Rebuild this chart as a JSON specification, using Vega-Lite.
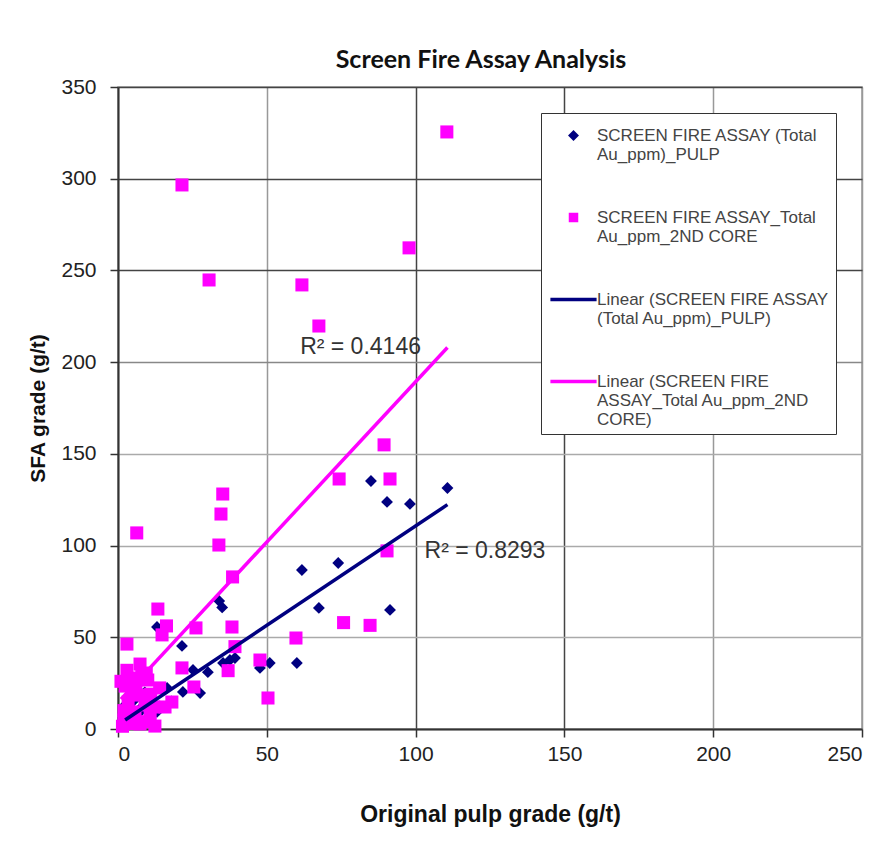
{
  "$schema": "https://vega.github.io/schema/vega-lite/v6.json",
  "width": 744,
  "height": 642,
  "autosize": {"type": "none"},
  "padding": {"left": 118, "top": 87, "right": 26, "bottom": 131},
  "background": "white",
  "title": {
    "text": "Screen Fire Assay Analysis",
    "font": "Lato",
    "fontWeight": "bold",
    "fontSize": 25,
    "color": "#111111",
    "anchor": "middle",
    "offset": 3,
    "dx": -9
  },
  "config": {
    "view": {"stroke": "#999999", "strokeWidth": 1.5},
    "axis": {
      "labelFont": "Liberation Sans",
      "labelFontSize": 21,
      "labelColor": "#222222",
      "titleFont": "Liberation Sans",
      "titleFontSize": 21,
      "titleFontWeight": "bold",
      "titleColor": "#111111",
      "domainColor": "#333333",
      "domainWidth": 2,
      "tickColor": "#333333",
      "tickSize": 8,
      "tickWidth": 1.5,
      "gridWidth": 1.5
    }
  },
  "datasets": {
    "samples": [
      {"series": "SCREEN FIRE ASSAY (Total Au_ppm)_PULP", "pulp": 110.7, "sfa": 131.4},
      {"series": "SCREEN FIRE ASSAY (Total Au_ppm)_PULP", "pulp": 85.0, "sfa": 135.2},
      {"series": "SCREEN FIRE ASSAY (Total Au_ppm)_PULP", "pulp": 90.4, "sfa": 123.8},
      {"series": "SCREEN FIRE ASSAY (Total Au_ppm)_PULP", "pulp": 98.1, "sfa": 122.7},
      {"series": "SCREEN FIRE ASSAY (Total Au_ppm)_PULP", "pulp": 61.8, "sfa": 86.7},
      {"series": "SCREEN FIRE ASSAY (Total Au_ppm)_PULP", "pulp": 74.0, "sfa": 90.5},
      {"series": "SCREEN FIRE ASSAY (Total Au_ppm)_PULP", "pulp": 67.5, "sfa": 66.0},
      {"series": "SCREEN FIRE ASSAY (Total Au_ppm)_PULP", "pulp": 91.4, "sfa": 64.9},
      {"series": "SCREEN FIRE ASSAY (Total Au_ppm)_PULP", "pulp": 60.1, "sfa": 36.0},
      {"series": "SCREEN FIRE ASSAY (Total Au_ppm)_PULP", "pulp": 51.0, "sfa": 36.0},
      {"series": "SCREEN FIRE ASSAY (Total Au_ppm)_PULP", "pulp": 47.7, "sfa": 33.3},
      {"series": "SCREEN FIRE ASSAY (Total Au_ppm)_PULP", "pulp": 39.3, "sfa": 38.7},
      {"series": "SCREEN FIRE ASSAY (Total Au_ppm)_PULP", "pulp": 37.6, "sfa": 37.6},
      {"series": "SCREEN FIRE ASSAY (Total Au_ppm)_PULP", "pulp": 35.3, "sfa": 36.0},
      {"series": "SCREEN FIRE ASSAY (Total Au_ppm)_PULP", "pulp": 34.0, "sfa": 69.8},
      {"series": "SCREEN FIRE ASSAY (Total Au_ppm)_PULP", "pulp": 35.0, "sfa": 66.3},
      {"series": "SCREEN FIRE ASSAY (Total Au_ppm)_PULP", "pulp": 13.1, "sfa": 55.6},
      {"series": "SCREEN FIRE ASSAY (Total Au_ppm)_PULP", "pulp": 21.5, "sfa": 45.3},
      {"series": "SCREEN FIRE ASSAY (Total Au_ppm)_PULP", "pulp": 30.2, "sfa": 31.0},
      {"series": "SCREEN FIRE ASSAY (Total Au_ppm)_PULP", "pulp": 25.2, "sfa": 32.2},
      {"series": "SCREEN FIRE ASSAY (Total Au_ppm)_PULP", "pulp": 27.6, "sfa": 19.6},
      {"series": "SCREEN FIRE ASSAY (Total Au_ppm)_PULP", "pulp": 21.8, "sfa": 20.2},
      {"series": "SCREEN FIRE ASSAY (Total Au_ppm)_PULP", "pulp": 16.5, "sfa": 22.4},
      {"series": "SCREEN FIRE ASSAY (Total Au_ppm)_PULP", "pulp": 2.4, "sfa": 13.1},
      {"series": "SCREEN FIRE ASSAY (Total Au_ppm)_PULP", "pulp": 13.1, "sfa": 9.3},
      {"series": "SCREEN FIRE ASSAY (Total Au_ppm)_PULP", "pulp": 7.4, "sfa": 9.3},
      {"series": "SCREEN FIRE ASSAY (Total Au_ppm)_PULP", "pulp": 4.0, "sfa": 6.0},
      {"series": "SCREEN FIRE ASSAY (Total Au_ppm)_PULP", "pulp": 10.0, "sfa": 16.0},
      {"series": "SCREEN FIRE ASSAY (Total Au_ppm)_PULP", "pulp": 18.0, "sfa": 15.0},
      {"series": "SCREEN FIRE ASSAY (Total Au_ppm)_PULP", "pulp": 3.0, "sfa": 10.0},
      {"series": "SCREEN FIRE ASSAY (Total Au_ppm)_PULP", "pulp": 6.0, "sfa": 4.0},
      {"series": "SCREEN FIRE ASSAY (Total Au_ppm)_PULP", "pulp": 8.0, "sfa": 12.0},
      {"series": "SCREEN FIRE ASSAY (Total Au_ppm)_PULP", "pulp": 11.0, "sfa": 6.0},
      {"series": "SCREEN FIRE ASSAY (Total Au_ppm)_PULP", "pulp": 5.0, "sfa": 15.0},
      {"series": "SCREEN FIRE ASSAY (Total Au_ppm)_PULP", "pulp": 9.0, "sfa": 20.0},
      {"series": "SCREEN FIRE ASSAY_Total Au_ppm_2ND CORE", "pulp": 110.5, "sfa": 325.5},
      {"series": "SCREEN FIRE ASSAY_Total Au_ppm_2ND CORE", "pulp": 21.5, "sfa": 296.6},
      {"series": "SCREEN FIRE ASSAY_Total Au_ppm_2ND CORE", "pulp": 97.8, "sfa": 262.3},
      {"series": "SCREEN FIRE ASSAY_Total Au_ppm_2ND CORE", "pulp": 30.6, "sfa": 244.8},
      {"series": "SCREEN FIRE ASSAY_Total Au_ppm_2ND CORE", "pulp": 61.8, "sfa": 242.1},
      {"series": "SCREEN FIRE ASSAY_Total Au_ppm_2ND CORE", "pulp": 67.5, "sfa": 219.7},
      {"series": "SCREEN FIRE ASSAY_Total Au_ppm_2ND CORE", "pulp": 89.4, "sfa": 154.9},
      {"series": "SCREEN FIRE ASSAY_Total Au_ppm_2ND CORE", "pulp": 74.3, "sfa": 136.3},
      {"series": "SCREEN FIRE ASSAY_Total Au_ppm_2ND CORE", "pulp": 91.4, "sfa": 136.3},
      {"series": "SCREEN FIRE ASSAY_Total Au_ppm_2ND CORE", "pulp": 35.2, "sfa": 128.1},
      {"series": "SCREEN FIRE ASSAY_Total Au_ppm_2ND CORE", "pulp": 34.6, "sfa": 117.2},
      {"series": "SCREEN FIRE ASSAY_Total Au_ppm_2ND CORE", "pulp": 33.9, "sfa": 100.3},
      {"series": "SCREEN FIRE ASSAY_Total Au_ppm_2ND CORE", "pulp": 6.3, "sfa": 106.9},
      {"series": "SCREEN FIRE ASSAY_Total Au_ppm_2ND CORE", "pulp": 38.5, "sfa": 82.9},
      {"series": "SCREEN FIRE ASSAY_Total Au_ppm_2ND CORE", "pulp": 90.4, "sfa": 97.1},
      {"series": "SCREEN FIRE ASSAY_Total Au_ppm_2ND CORE", "pulp": 13.4, "sfa": 65.4},
      {"series": "SCREEN FIRE ASSAY_Total Au_ppm_2ND CORE", "pulp": 16.3, "sfa": 56.2},
      {"series": "SCREEN FIRE ASSAY_Total Au_ppm_2ND CORE", "pulp": 14.8, "sfa": 51.3},
      {"series": "SCREEN FIRE ASSAY_Total Au_ppm_2ND CORE", "pulp": 3.0, "sfa": 46.3},
      {"series": "SCREEN FIRE ASSAY_Total Au_ppm_2ND CORE", "pulp": 26.2, "sfa": 55.1},
      {"series": "SCREEN FIRE ASSAY_Total Au_ppm_2ND CORE", "pulp": 38.3, "sfa": 55.6},
      {"series": "SCREEN FIRE ASSAY_Total Au_ppm_2ND CORE", "pulp": 39.3, "sfa": 44.9},
      {"series": "SCREEN FIRE ASSAY_Total Au_ppm_2ND CORE", "pulp": 37.0, "sfa": 31.8},
      {"series": "SCREEN FIRE ASSAY_Total Au_ppm_2ND CORE", "pulp": 47.7, "sfa": 37.6},
      {"series": "SCREEN FIRE ASSAY_Total Au_ppm_2ND CORE", "pulp": 59.8, "sfa": 49.6},
      {"series": "SCREEN FIRE ASSAY_Total Au_ppm_2ND CORE", "pulp": 50.4, "sfa": 16.9},
      {"series": "SCREEN FIRE ASSAY_Total Au_ppm_2ND CORE", "pulp": 75.8, "sfa": 58.0},
      {"series": "SCREEN FIRE ASSAY_Total Au_ppm_2ND CORE", "pulp": 84.7, "sfa": 56.5},
      {"series": "SCREEN FIRE ASSAY_Total Au_ppm_2ND CORE", "pulp": 7.4, "sfa": 35.4},
      {"series": "SCREEN FIRE ASSAY_Total Au_ppm_2ND CORE", "pulp": 21.5, "sfa": 33.3},
      {"series": "SCREEN FIRE ASSAY_Total Au_ppm_2ND CORE", "pulp": 25.5, "sfa": 22.9},
      {"series": "SCREEN FIRE ASSAY_Total Au_ppm_2ND CORE", "pulp": 18.1, "sfa": 14.7},
      {"series": "SCREEN FIRE ASSAY_Total Au_ppm_2ND CORE", "pulp": 15.8, "sfa": 12.0},
      {"series": "SCREEN FIRE ASSAY_Total Au_ppm_2ND CORE", "pulp": 1.0, "sfa": 26.0},
      {"series": "SCREEN FIRE ASSAY_Total Au_ppm_2ND CORE", "pulp": 2.4, "sfa": 23.4},
      {"series": "SCREEN FIRE ASSAY_Total Au_ppm_2ND CORE", "pulp": 4.7, "sfa": 21.3},
      {"series": "SCREEN FIRE ASSAY_Total Au_ppm_2ND CORE", "pulp": 7.4, "sfa": 18.5},
      {"series": "SCREEN FIRE ASSAY_Total Au_ppm_2ND CORE", "pulp": 3.4, "sfa": 14.7},
      {"series": "SCREEN FIRE ASSAY_Total Au_ppm_2ND CORE", "pulp": 9.1, "sfa": 13.1},
      {"series": "SCREEN FIRE ASSAY_Total Au_ppm_2ND CORE", "pulp": 5.7, "sfa": 9.3},
      {"series": "SCREEN FIRE ASSAY_Total Au_ppm_2ND CORE", "pulp": 10.8, "sfa": 7.6},
      {"series": "SCREEN FIRE ASSAY_Total Au_ppm_2ND CORE", "pulp": 2.0, "sfa": 4.9},
      {"series": "SCREEN FIRE ASSAY_Total Au_ppm_2ND CORE", "pulp": 7.4, "sfa": 2.7},
      {"series": "SCREEN FIRE ASSAY_Total Au_ppm_2ND CORE", "pulp": 12.4, "sfa": 1.6},
      {"series": "SCREEN FIRE ASSAY_Total Au_ppm_2ND CORE", "pulp": 4.0, "sfa": 27.8},
      {"series": "SCREEN FIRE ASSAY_Total Au_ppm_2ND CORE", "pulp": 10.0, "sfa": 26.7},
      {"series": "SCREEN FIRE ASSAY_Total Au_ppm_2ND CORE", "pulp": 14.0, "sfa": 22.4},
      {"series": "SCREEN FIRE ASSAY_Total Au_ppm_2ND CORE", "pulp": 8.0, "sfa": 30.0},
      {"series": "SCREEN FIRE ASSAY_Total Au_ppm_2ND CORE", "pulp": 1.5, "sfa": 1.5},
      {"series": "SCREEN FIRE ASSAY_Total Au_ppm_2ND CORE", "pulp": 11.0, "sfa": 19.0},
      {"series": "SCREEN FIRE ASSAY_Total Au_ppm_2ND CORE", "pulp": 2.0, "sfa": 10.0},
      {"series": "SCREEN FIRE ASSAY_Total Au_ppm_2ND CORE", "pulp": 5.0, "sfa": 3.0},
      {"series": "SCREEN FIRE ASSAY_Total Au_ppm_2ND CORE", "pulp": 9.0, "sfa": 4.0},
      {"series": "SCREEN FIRE ASSAY_Total Au_ppm_2ND CORE", "pulp": 6.0, "sfa": 24.0},
      {"series": "SCREEN FIRE ASSAY_Total Au_ppm_2ND CORE", "pulp": 12.0, "sfa": 12.0},
      {"series": "SCREEN FIRE ASSAY_Total Au_ppm_2ND CORE", "pulp": 3.0, "sfa": 32.0},
      {"series": "SCREEN FIRE ASSAY_Total Au_ppm_2ND CORE", "pulp": 9.5, "sfa": 30.5}
    ],
    "trend": [
      {"series": "Linear (SCREEN FIRE ASSAY (Total Au_ppm)_PULP)", "pulp": 2.4, "sfa": 4.9},
      {"series": "Linear (SCREEN FIRE ASSAY (Total Au_ppm)_PULP)", "pulp": 110.7, "sfa": 122.3},
      {"series": "Linear (SCREEN FIRE ASSAY_Total Au_ppm_2ND CORE)", "pulp": 1.0, "sfa": 16.3},
      {"series": "Linear (SCREEN FIRE ASSAY_Total Au_ppm_2ND CORE)", "pulp": 110.7, "sfa": 208.0}
    ],
    "notes": [
      {"pulp": 61.2, "sfa": 208.4, "label": "R² = 0.4146"},
      {"pulp": 103.0, "sfa": 96.8, "label": "R² = 0.8293"}
    ]
  },
  "encoding": {
    "x": {
      "field": "pulp",
      "type": "quantitative",
      "scale": {"domain": [0, 250], "nice": false},
      "axis": {
        "values": [0, 50, 100, 150, 200, 250],
        "title": "Original  pulp grade (g/t)",
        "labelPadding": 6,
        "titlePadding": 39,
        "titleFontSize": 23,
        "gridColor": {"condition": {"test": "datum.value === 100 || datum.value === 150", "value": "#444444"}, "value": "#999999"}
      }
    },
    "y": {
      "field": "sfa",
      "type": "quantitative",
      "scale": {"domain": [0, 350], "nice": false},
      "axis": {
        "values": [0, 50, 100, 150, 200, 250, 300, 350],
        "title": "SFA grade (g/t)",
        "labelPadding": 14,
        "titlePadding": 12,
        "gridColor": {"condition": [{"test": "datum.value >= 250", "value": "#444444"}, {"test": "datum.value === 200", "value": "#888888"}], "value": "#aaaaaa"}
      }
    }
  },
  "layer": [
    {
      "data": {"name": "samples"},
      "transform": [{"filter": "datum.series === 'SCREEN FIRE ASSAY (Total Au_ppm)_PULP'"}],
      "mark": {"type": "point", "shape": "diamond", "filled": true, "opacity": 1, "size": 140},
      "encoding": {
        "color": {
          "field": "series",
          "type": "nominal",
          "scale": {
            "domain": [
              "SCREEN FIRE ASSAY (Total Au_ppm)_PULP",
              "SCREEN FIRE ASSAY_Total Au_ppm_2ND CORE",
              "Linear (SCREEN FIRE ASSAY (Total Au_ppm)_PULP)",
              "Linear (SCREEN FIRE ASSAY_Total Au_ppm_2ND CORE)"
            ],
            "range": ["#000080", "#ff00ff", "#000080", "#ff00ff"]
          }
        }
      }
    },
    {
      "data": {"name": "samples"},
      "transform": [{"filter": "datum.series === 'SCREEN FIRE ASSAY_Total Au_ppm_2ND CORE'"}],
      "mark": {"type": "point", "shape": "square", "filled": true, "opacity": 1, "size": 170},
      "encoding": {
        "color": {"field": "series", "type": "nominal"}
      }
    },
    {
      "data": {"name": "trend"},
      "mark": {"type": "line", "strokeWidth": 3.5},
      "encoding": {
        "color": {"field": "series", "type": "nominal"}
      }
    },
    {
      "data": {"name": "trend"},
      "mark": {"type": "point", "filled": true, "opacity": 0},
      "encoding": {
        "color": {
          "field": "series",
          "type": "nominal",
          "legend": {
            "title": null,
            "orient": "none",
            "legendX": 423,
            "legendY": 26,
            "direction": "vertical",
            "strokeColor": "#333333",
            "fillColor": "white",
            "padding": 6,
            "symbolSize": 36,
            "symbolOpacity": 1,
            "symbolStrokeWidth": 3.5,
            "symbolOffset": 18,
            "labelOffset": 15,
            "labelFont": "Liberation Sans",
            "labelFontSize": 17,
            "labelColor": "#444444",
            "labelLimit": 320,
            "labelBaseline": "top",
            "rowPadding": 38,
            "labelExpr": "datum.value === 'SCREEN FIRE ASSAY (Total Au_ppm)_PULP' ? ['SCREEN FIRE ASSAY (Total', 'Au_ppm)_PULP'] : datum.value === 'SCREEN FIRE ASSAY_Total Au_ppm_2ND CORE' ? ['SCREEN FIRE ASSAY_Total', 'Au_ppm_2ND CORE'] : datum.value === 'Linear (SCREEN FIRE ASSAY (Total Au_ppm)_PULP)' ? ['Linear (SCREEN FIRE ASSAY', '(Total Au_ppm)_PULP)'] : ['Linear (SCREEN FIRE', 'ASSAY_Total Au_ppm_2ND', 'CORE)']"
          }
        },
        "shape": {
          "field": "series",
          "type": "nominal",
          "scale": {
            "domain": [
              "SCREEN FIRE ASSAY (Total Au_ppm)_PULP",
              "SCREEN FIRE ASSAY_Total Au_ppm_2ND CORE",
              "Linear (SCREEN FIRE ASSAY (Total Au_ppm)_PULP)",
              "Linear (SCREEN FIRE ASSAY_Total Au_ppm_2ND CORE)"
            ],
            "range": [
              "M0,1.67L1,2.67L0,3.67L-1,2.67Z",
              "M-1,1.67H1V3.67H-1Z",
              "M-7.7,2.67H7.7",
              "M-7.7,2.67H7.7"
            ]
          }
        }
      }
    },
    {
      "data": {"name": "notes"},
      "mark": {"type": "text", "align": "left", "baseline": "middle", "font": "Liberation Sans", "fontSize": 23, "color": "#333333"},
      "encoding": {
        "text": {"field": "label"}
      }
    }
  ]
}
